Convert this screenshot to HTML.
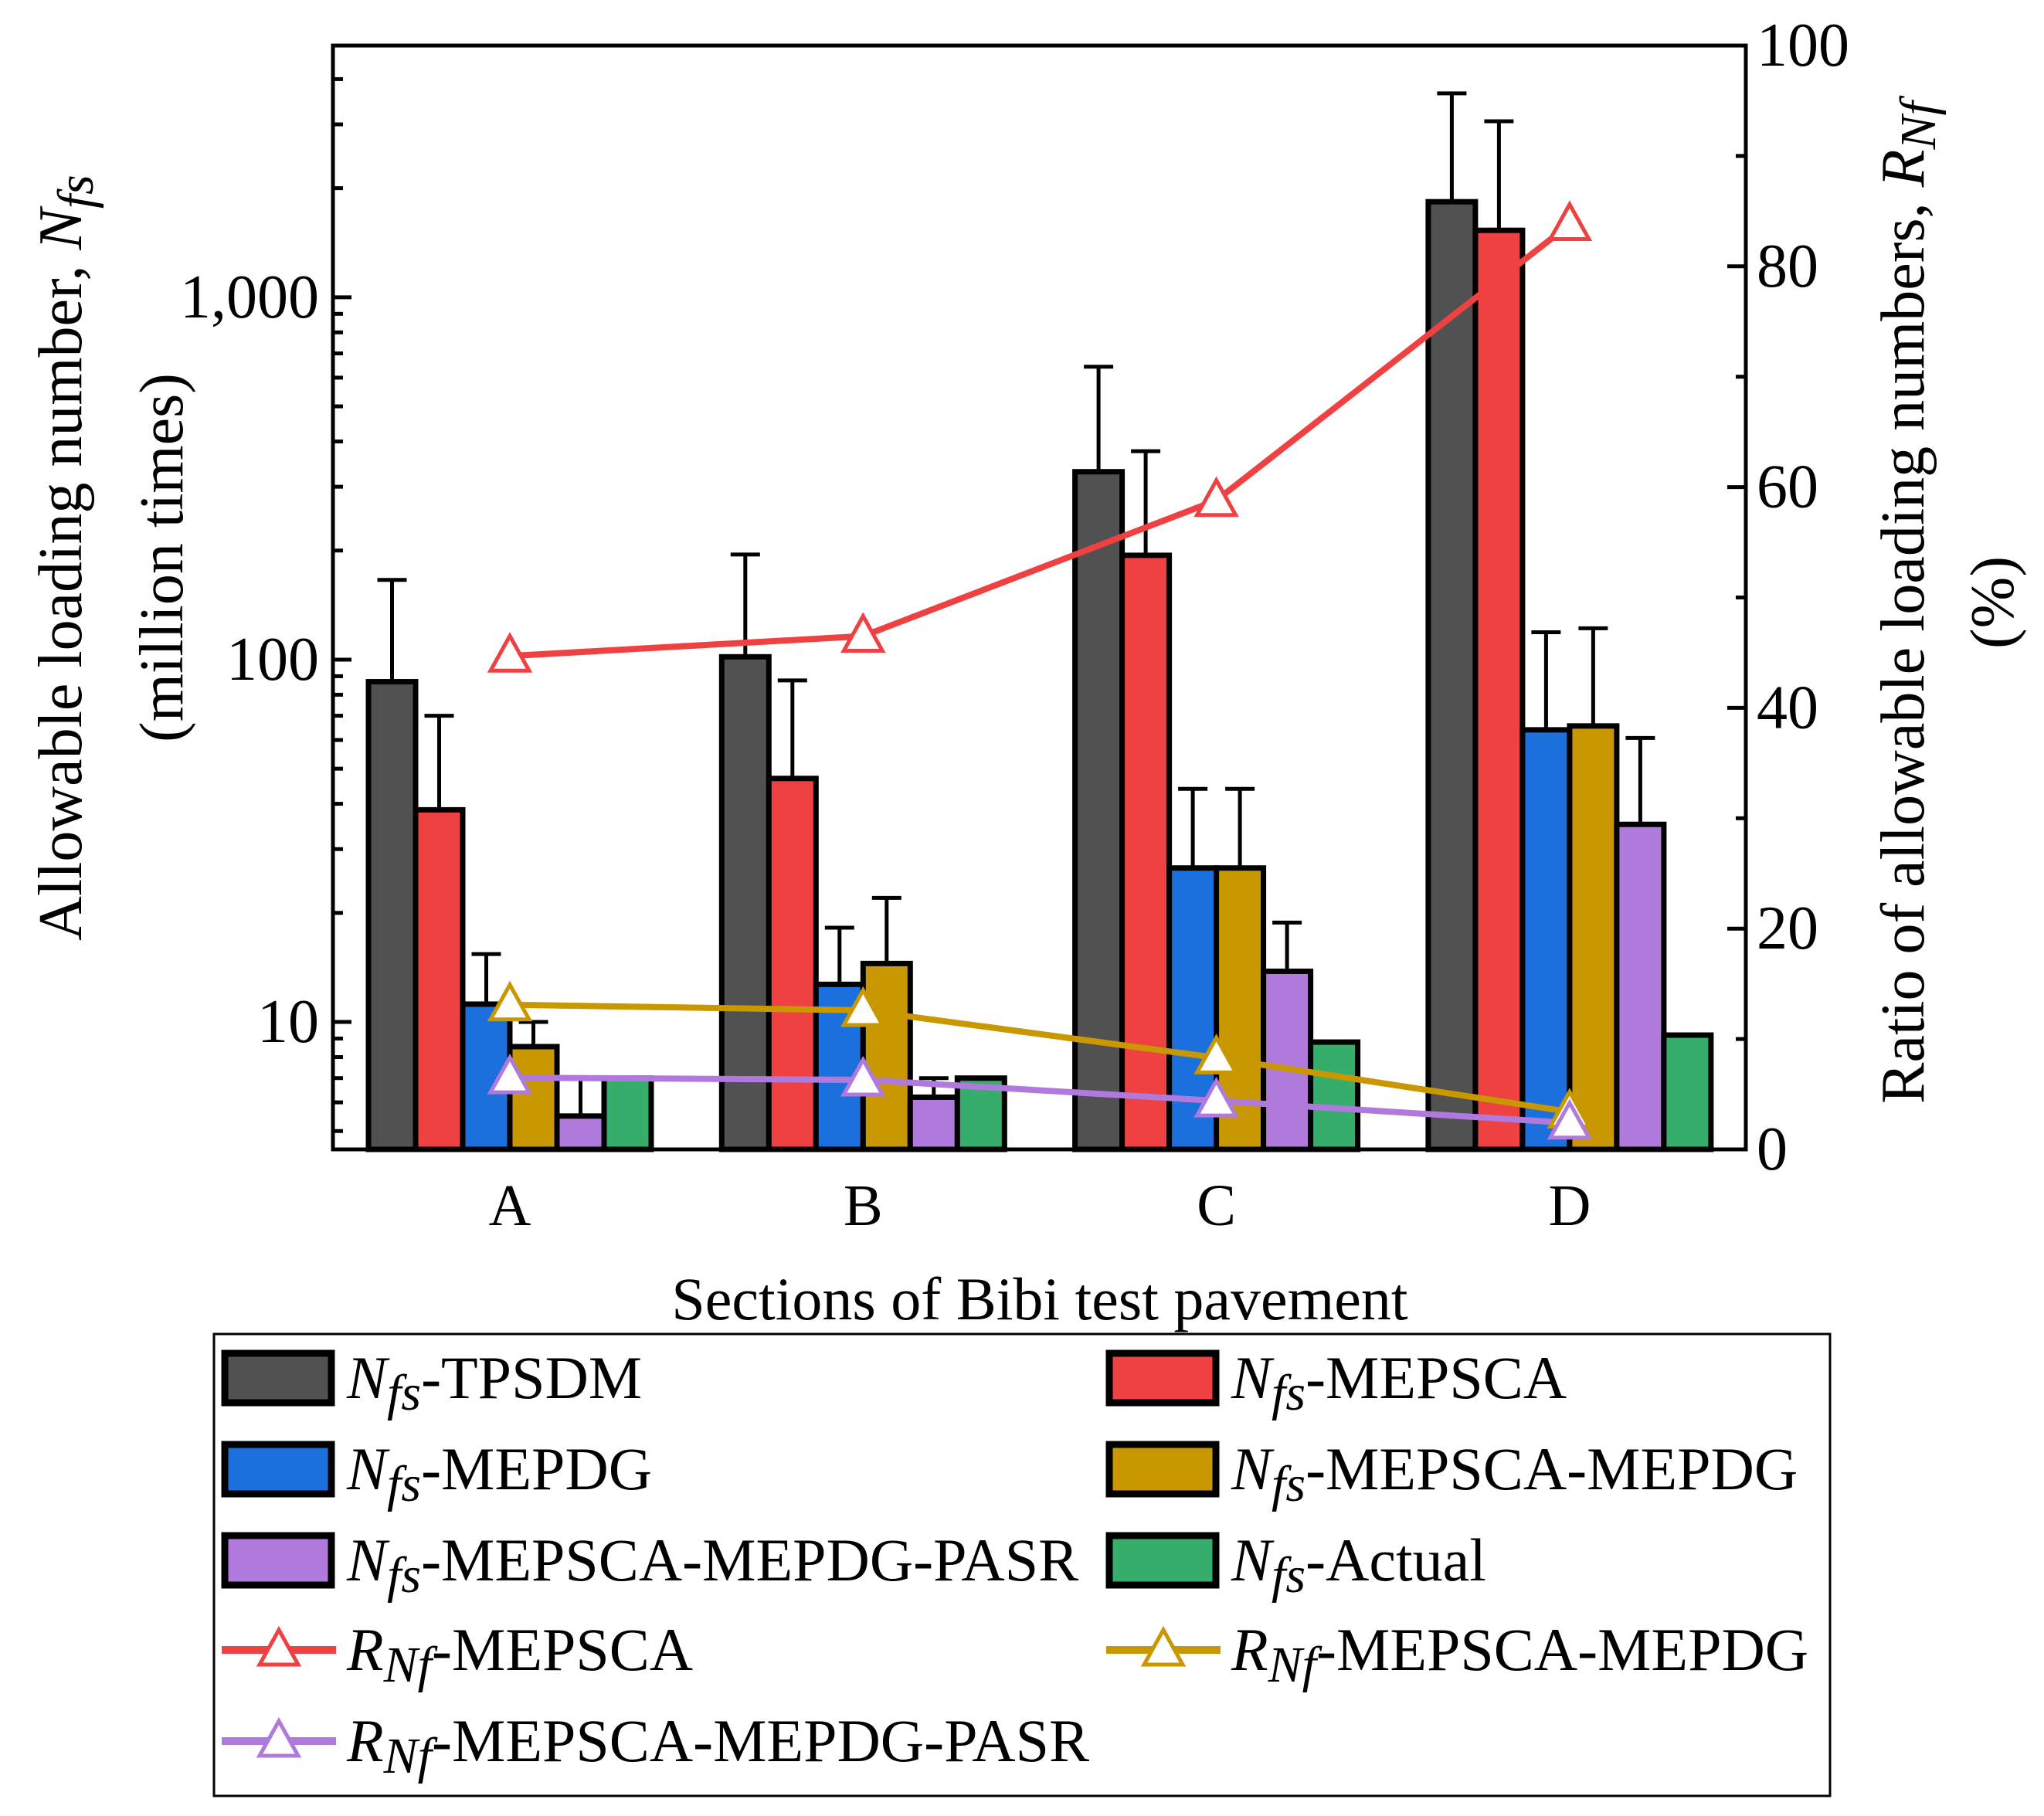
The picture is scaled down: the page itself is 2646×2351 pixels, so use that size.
<!DOCTYPE html>
<html><head><meta charset="utf-8"><style>
html,body{margin:0;padding:0;background:#fff;}
svg{display:block;font-family:"Liberation Serif",serif;}
svg text{font-family:"Liberation Serif",serif;}
</style></head><body>
<svg id="chart" width="2646" height="2351" viewBox="0 0 2646 2351" xmlns="http://www.w3.org/2000/svg" font-family="Liberation Serif, serif">
<g id="bars"></g>
<g id="lines"></g>
<g id="axes"></g>
<text font-family="Liberation Serif, serif" transform="translate(105,722) rotate(-90)" text-anchor="middle" font-size="80">Allowable loading number, <tspan font-style="italic">N</tspan><tspan font-style="italic" font-size="66" dy="15">fs</tspan></text>
<text font-family="Liberation Serif, serif" transform="translate(236,722) rotate(-90)" text-anchor="middle" font-size="80">(million times)</text>
<text font-family="Liberation Serif, serif" transform="translate(2490,780) rotate(-90)" text-anchor="middle" font-size="80">Ratio of allowable loading numbers, <tspan font-style="italic">R</tspan><tspan font-style="italic" font-size="66" dy="15">Nf</tspan></text>
<text font-family="Liberation Serif, serif" transform="translate(2606,780) rotate(-90)" text-anchor="middle" font-size="80">(%)</text>
<text font-family="Liberation Serif, serif" x="1346" y="1708" text-anchor="middle" font-size="78">Sections of Bibi test pavement</text>
<g id="legend">
<rect x="277" y="1727" width="2092" height="598" fill="#fff" stroke="#000" stroke-width="3"/>
</g>
</svg>
<script>
const categories = ["A","B","C","D"];
const tpsdm = [86.9, 101.8, 330, 1835];
const tpsdmErr = [166, 195, 643, 3653];
const mepsca = [38.5, 47, 194, 1530];
const mepscaErr = [70, 87.6, 376, 3060];
const mepdg = [11.2, 12.7, 26.6, 64];
const mepdgErr = [15.4, 18.2, 44, 119];
const mepscaMepdg = [8.55, 14.5, 26.6, 65.6];
const mepscaMepdgErr = [10, 22, 44, 122];
const pasr = [5.5, 6.2, 13.8, 35.1];
const pasrErr = [7.0, 7.0, 18.8, 60.8];
const actual = [7.0, 7.0, 8.8, 9.2];
const ratioMepsca = [44.7, 46.5, 58.8, 83.8];
const ratioMepscaMepdg = [13.1, 12.6, 8.3, 3.4];
const ratioPasr = [6.5, 6.3, 4.4, 2.4];
const yTicks = [10, 100, 1000];
const yTickLabels = ["10","100","1,000"];
const y2Ticks = [0,20,40,60,80,100];

const NS="http://www.w3.org/2000/svg";
const FF="Liberation Serif, serif";
const L=431,R=2260,T=59,B=1488;
const logMin=Math.log10(4.45), logMax=Math.log10(4950);
function yLog(v){return B-(Math.log10(v)-logMin)/(logMax-logMin)*(B-T);}
function y2(v){return B-v/100*(B-T);}
const cat0=660, catStep=457.3;
function xCat(i){return cat0+i*catStep;}
const bw=61;
function el(tag,attrs,parent){const e=document.createElementNS(NS,tag);for(const k in attrs)e.setAttribute(k,attrs[k]);parent.appendChild(e);return e;}

const series=[
 {name:"tpsdm",vals:tpsdm,err:tpsdmErr,color:"#515151"},
 {name:"mepsca",vals:mepsca,err:mepscaErr,color:"#EF4141"},
 {name:"mepdg",vals:mepdg,err:mepdgErr,color:"#1B70DD"},
 {name:"mepsca-mepdg",vals:mepscaMepdg,err:mepscaMepdgErr,color:"#C99700"},
 {name:"pasr",vals:pasr,err:pasrErr,color:"#B07ADC"},
 {name:"actual",vals:actual,err:null,color:"#37AD6B"}];
const gb=document.getElementById('bars');
series.forEach((s,si)=>{
 categories.forEach((c,ci)=>{
  const cx=xCat(ci)+(si-2.5)*bw;
  const top=yLog(s.vals[ci]);
  if(s.err){
   const ey=yLog(s.err[ci]);
   const l=el('line',{x1:cx,x2:cx,y1:top,y2:ey,stroke:"#000","stroke-width":5},gb);
   
   
   const cp=el('line',{x1:cx-19,x2:cx+19,y1:ey,y2:ey,stroke:"#000","stroke-width":5},gb);
   
   
  }
  const r=el('rect',{x:cx-bw/2,y:top,width:bw,height:B-top,fill:s.color,stroke:"#000","stroke-width":7},gb);
  
  
 });
});

const lines=[{name:"ratio-mepsca",vals:ratioMepsca,color:"#EF4141"},
 {name:"ratio-mepsca-mepdg",vals:ratioMepscaMepdg,color:"#C99700"},
 {name:"ratio-pasr",vals:ratioPasr,color:"#B07ADC"}];
const gl=document.getElementById('lines');
function tri(cx,cy,color,parent,name){
 const t=el('polygon',{points:`${cx},${cy-26} ${cx-25},${cy+19} ${cx+25},${cy+19}`,fill:"#fff",stroke:color,"stroke-width":5},parent);
 
 
}
lines.forEach(s=>{
 const pts=s.vals.map((v,i)=>xCat(i)+','+y2(v)).join(' ');
 const p=el('polyline',{points:pts,fill:"none",stroke:s.color,"stroke-width":8},gl);
 
 
});
lines.forEach(s=>{s.vals.forEach((v,i)=>tri(xCat(i),y2(v),s.color,gl,'marker-'+s.name+'-'+categories[i]));});

const ga=document.getElementById('axes');
const frame=el('rect',{x:L,y:T,width:R-L,height:B-T,fill:"none",stroke:"#000","stroke-width":5},ga);


for(let d=0;d<4;d++){for(let m=1;m<10;m++){const v=m*Math.pow(10,d);if(v<4.45||v>4950)continue;
 const y=yLog(v);const len=m===1?24:13;
 const tk=el('line',{x1:L,x2:L+len,y1:y,y2:y,stroke:"#000","stroke-width":5},ga);
 
 }}
yTicks.forEach((v,i)=>{const t=el('text',{x:L-18,y:yLog(v)+26,"text-anchor":"end","font-size":80,"font-family":FF},ga);t.textContent=yTickLabels[i];
 
 });
for(let v=0;v<=100;v+=10){const y=y2(v);const len=v%20===0?24:13;
 const tk=el('line',{x1:R-len,x2:R,y1:y,y2:y,stroke:"#000","stroke-width":5},ga);
 
 }
y2Ticks.forEach(v=>{const t=el('text',{x:R+14,y:y2(v)+26,"font-size":80,"font-family":FF},ga);t.textContent=String(v);
 
 });
categories.forEach((c,i)=>{const t=el('text',{x:xCat(i),y:1586,"text-anchor":"middle","font-size":76,"font-family":FF},ga);t.textContent=c;
 
 });

const lg=document.getElementById('legend');
const legItems=[
 {t:"bar",c:"#515151",p:"N",s:"fs",l:"-TPSDM",col:0,row:0},
 {t:"bar",c:"#EF4141",p:"N",s:"fs",l:"-MEPSCA",col:1,row:0},
 {t:"bar",c:"#1B70DD",p:"N",s:"fs",l:"-MEPDG",col:0,row:1},
 {t:"bar",c:"#C99700",p:"N",s:"fs",l:"-MEPSCA-MEPDG",col:1,row:1},
 {t:"bar",c:"#B07ADC",p:"N",s:"fs",l:"-MEPSCA-MEPDG-PASR",col:0,row:2},
 {t:"bar",c:"#37AD6B",p:"N",s:"fs",l:"-Actual",col:1,row:2},
 {t:"line",c:"#EF4141",p:"R",s:"Nf",l:"-MEPSCA",col:0,row:3},
 {t:"line",c:"#C99700",p:"R",s:"Nf",l:"-MEPSCA-MEPDG",col:1,row:3},
 {t:"line",c:"#B07ADC",p:"R",s:"Nf",l:"-MEPSCA-MEPDG-PASR",col:0,row:4}];
const rowY=[1784,1902,2020,2136,2254];
legItems.forEach(it=>{
 const x0=it.col?1432:287, y=rowY[it.row];
 const g=el('g',{},lg);
 
 
 if(it.t==="bar"){el('rect',{x:x0+4,y:y-32,width:138,height:64,fill:it.c,stroke:"#000","stroke-width":9},g);}
 else{el('line',{x1:x0,x2:x0+148,y1:y,y2:y,stroke:it.c,"stroke-width":10},g);tri(x0+74,y,it.c,g,'legend-marker');}
 const tx=el('text',{x:x0+162,y:y+26,"font-size":78,"font-family":FF},g);
 tx.innerHTML=`<tspan font-style="italic">${it.p}</tspan><tspan font-style="italic" font-size="66" dy="15">${it.s}</tspan><tspan dy="-15">${it.l}</tspan>`;
});
</script>
</body></html>
